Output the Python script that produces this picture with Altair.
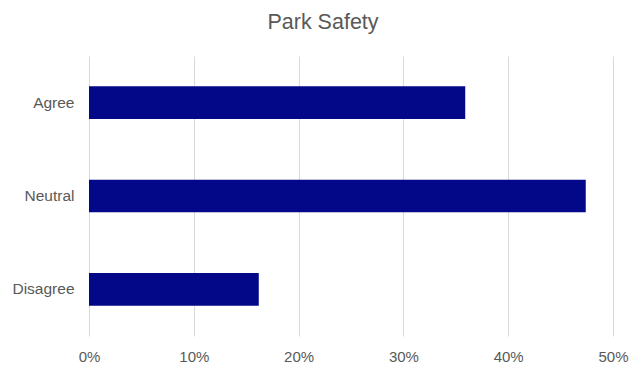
import altair as alt
import pandas as pd

categories = ["Agree", "Neutral", "Disagree"]
shares = [0.359, 0.474, 0.162]

df = pd.DataFrame({"category": categories, "share": shares})

chart = alt.Chart(df).mark_bar(color="#020887").encode(
    x=alt.X("share:Q",
            scale=alt.Scale(domain=[0, 0.5], nice=False),
            axis=alt.Axis(format=".0%", values=[0, 0.1, 0.2, 0.3, 0.4, 0.5],
                          title=None, domain=False, ticks=False, labelFlush=False,
                          grid=True, gridColor="#d9d9d9", gridWidth=1,
                          labelColor="#595959", labelFontSize=15,
                          labelFont="Liberation Sans", labelPadding=13)),
    y=alt.Y("category:N", sort=categories,
            scale=alt.Scale(paddingInner=0.65, paddingOuter=0.325),
            axis=alt.Axis(title=None, domain=False, ticks=False, grid=False,
                          labelColor="#595959", labelFontSize=15.5,
                          labelFont="Liberation Sans", labelPadding=15)),
).properties(
    width=524,
    height=280,
    title=alt.TitleParams("Park Safety", anchor="middle", frame="group",
                          fontSize=21.5, font="Liberation Sans", fontWeight="normal",
                          color="#595959", dx=-28, offset=23),
    autosize=alt.AutoSizeParams(type="none"),
    padding={"left": 81, "top": 48, "right": 21, "bottom": 30},
).configure_view(stroke=None)

chart.save("out.html", embed_options={"renderer": "svg", "actions": False})
